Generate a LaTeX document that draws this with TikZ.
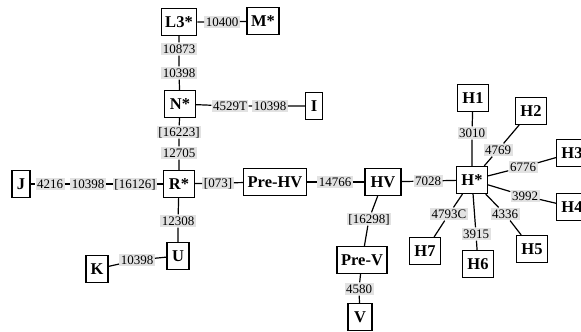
\documentclass[tikz,border=0pt]{standalone}
\usepackage{fontspec}
\setmainfont{Liberation Serif}
\definecolor{lblgray}{RGB}{226,226,226}
\begin{document}
\begin{tikzpicture}[x=1pt,y=-1pt,
  hap/.style={draw, line width=1.2pt, fill=white, font=\fontsize{16.5}{18}\selectfont\bfseries,
    minimum height=27pt, minimum width=31pt, inner xsep=4pt, inner ysep=0pt},
  mut/.style={fill=lblgray, font=\fontsize{13}{14}\selectfont, text height=9pt, text depth=0.8pt,
    inner xsep=1.5pt, inner ysep=1.5pt},
  link/.style={line width=1.2pt}]
\useasboundingbox (0,0) rectangle (581,332);
% haplogroup boxes
\node[hap] (L3) at (179,22) {L3*};
\node[hap] (M) at (263,21) {M*};
\node[hap] (N) at (180,104) {N*};
\node[hap, minimum width=17pt] (I) at (314,106) {I};
\node[hap] (R) at (179,184) {R*};
\node[hap, minimum width=18pt] (J) at (21,184) {J};
\node[hap] (PreHV) at (275,182) {Pre-HV};
\node[hap, minimum width=36pt] (HV) at (383,182) {HV};
\node[hap] (Hs) at (472,180) {H*};
\node[hap] (H1) at (473,98) {H1};
\node[hap] (H2) at (531,111) {H2};
\node[hap] (H3) at (572,153) {H3};
\node[hap] (H4) at (572,207) {H4};
\node[hap] (H5) at (532,249) {H5};
\node[hap] (H6) at (478,264) {H6};
\node[hap] (H7) at (425,251) {H7};
\node[hap, minimum width=50pt] (PreV) at (362,260) {Pre-V};
\node[hap, minimum width=24pt] (V) at (360,317) {V};
\node[hap, minimum width=22pt] (U) at (178,256) {U};
\node[hap, minimum width=22pt] (K) at (97,269) {K};
% mutation labels
\node[mut] (m10400) at (222,22) {10400};
\node[mut] (m10873) at (179,49) {10873};
\node[mut] (m10398a) at (179,73) {10398};
\node[mut] (m4529) at (230,106) {4529T};
\node[mut] (m10398b) at (270,106) {10398};
\node[mut] (m16223) at (179,132) {[16223]};
\node[mut] (m12705) at (179,153) {12705};
\node[mut] (m4216) at (50,184) {4216};
\node[mut] (m10398c) at (88,184) {10398};
\node[mut] (m16126) at (135,184) {[16126]};
\node[mut] (m073) at (218,183) {[073]};
\node[mut] (m14766) at (335,182) {14766};
\node[mut] (m7028) at (428,181) {7028};
\node[mut] (m12308) at (178,221) {12308};
\node[mut] (m10398d) at (137,260) {10398};
\node[mut] (m16298) at (369,219) {[16298]};
\node[mut] (m4580) at (359,289) {4580};
\node[mut] (m3010) at (472,133) {3010};
\node[mut] (m4769) at (498,150) {4769};
\node[mut] (m6776) at (523,167) {6776};
\node[mut] (m3992) at (525,196) {3992};
\node[mut] (m4336) at (505,214) {4336};
\node[mut] (m3915) at (476,234) {3915};
\node[mut] (m4793) at (449,214) {4793C};
% connectors
\begin{scope}[on background layer/.style={}]
\draw[link] (L3) -- (m10400) -- (M);
\draw[link] (L3) -- (m10873) -- (m10398a) -- (N);
\draw[link] (N) -- (m4529) -- (m10398b) -- (I);
\draw[link] (N) -- (m16223) -- (m12705) -- (R);
\draw[link] (J) -- (m4216) -- (m10398c) -- (m16126) -- (R);
\draw[link] (R) -- (m073) -- (PreHV);
\draw[link] (PreHV) -- (m14766) -- (HV);
\draw[link] (HV) -- (m7028) -- (Hs);
\draw[link] (R) -- (m12308) -- (U);
\draw[link] (K) -- (m10398d) -- (U);
\draw[link] (HV) -- (m16298) -- (PreV);
\draw[link] (PreV) -- (m4580) -- (V);
\draw[link] (Hs) -- (m3010) -- (H1);
\draw[link] (Hs) -- (m4769) -- (H2);
\draw[link] (Hs) -- (m6776) -- (H3);
\draw[link] (Hs) -- (m3992) -- (H4);
\draw[link] (Hs) -- (m4336) -- (H5);
\draw[link] (Hs) -- (m3915) -- (H6);
\draw[link] (Hs) -- (m4793) -- (H7);
\end{scope}
\end{tikzpicture}
\end{document}
